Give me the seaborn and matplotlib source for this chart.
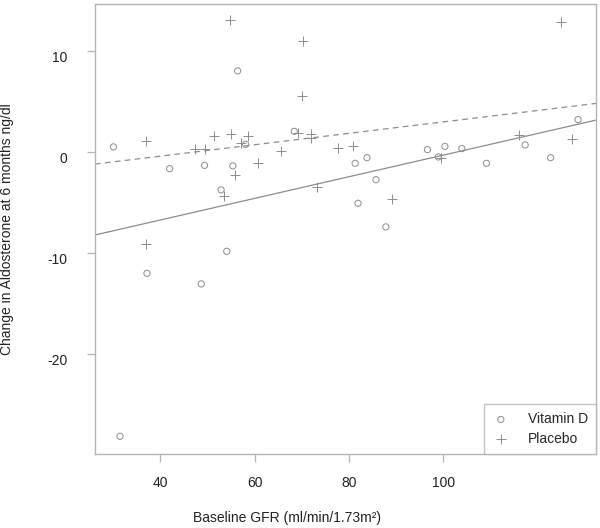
import numpy as np
import pandas as pd
import matplotlib
matplotlib.use("Agg")
import matplotlib.pyplot as plt
import matplotlib.transforms as mtransforms
import seaborn as sns

# values
vitd_gfr = [30.1, 42.0, 49.4, 55.4, 52.9, 56.4, 58.1, 68.4, 81.3, 83.8, 85.7, 81.9, 87.8,
            96.6, 100.3, 103.9, 98.9, 109.1, 117.3, 122.7, 128.5, 37.2, 48.7, 54.1, 31.5]
vitd_change = [0.54, -1.62, -1.29, -1.35, -3.72, 8.07, 0.79, 2.08, -1.09, -0.53, -2.71, -5.05, -7.39,
               0.27, 0.59, 0.37, -0.46, -1.09, 0.73, -0.53, 3.24, -11.99, -13.04, -9.81, -28.15]

placebo_gfr = [54.7, 70.3, 70.1, 51.3, 54.9, 58.5, 57.1, 47.4, 49.5, 37.1, 60.8, 55.9, 53.5,
               65.6, 71.9, 71.9, 69.2, 73.3, 77.6, 80.8, 89.1, 99.4, 116.0, 127.3, 124.9, 37.1]
placebo_change = [13.15, 11.04, 5.59, 1.66, 1.82, 1.59, 0.93, 0.32, 0.32, 1.16, -1.07, -2.26, -4.34,
                  0.10, 1.85, 1.41, 1.95, -3.45, 0.42, 0.63, -4.62, -0.59, 1.72, 1.33, 12.92, -9.05]

x_ticks = [40, 60, 80, 100]
y_ticks = [-20, -10, 0, 10]

GREY = "#8c8c8c"
FRAME = "#b4b4b4"


def main():
    sns.set_theme(style="ticks")
    plt.rcParams['font.family'] = ['Liberation Sans', 'DejaVu Sans']
    plt.rcParams['axes.unicode_minus'] = False

    vitd = pd.DataFrame({'gfr': vitd_gfr, 'change': vitd_change})
    placebo = pd.DataFrame({'gfr': placebo_gfr, 'change': placebo_change})

    fig = plt.figure(figsize=(6, 5.28), dpi=100)
    ax = fig.add_axes([95 / 600, 74 / 528, 501 / 600, 450 / 528])
    ax.set_xlim(26.2, 132.3)
    ax.set_ylim(-29.9, 14.7)

    sns.scatterplot(data=vitd, x='gfr', y='change', ax=ax, marker='o', s=20,
                    facecolors='none', edgecolors=GREY, linewidths=0.7, label='Vitamin D')
    sns.scatterplot(data=placebo, x='gfr', y='change', ax=ax, marker='+', s=60,
                    color=GREY, linewidths=0.7, label='Placebo')

    # least squares lines over the whole x range
    sns.regplot(data=vitd, x='gfr', y='change', ax=ax, scatter=False, ci=None, truncate=False,
                line_kws={'color': GREY, 'lw': 0.9})
    sns.regplot(data=placebo, x='gfr', y='change', ax=ax, scatter=False, ci=None, truncate=False,
                line_kws={'color': GREY, 'lw': 0.9, 'ls': (0, (4.5, 3.5))})
    ax.set_xlim(26.2, 132.3)
    ax.set_ylim(-29.9, 14.7)

    for sp in ax.spines.values():
        sp.set_visible(True)
        sp.set_color(FRAME)
        sp.set_linewidth(1.0)

    ax.set_xticks(x_ticks)
    ax.set_yticks(y_ticks)
    ax.tick_params(axis='both', direction='out', length=6, width=0.9, color=FRAME,
                   labelsize=10, labelcolor='#222222')
    ax.tick_params(axis='x', pad=10)
    ax.tick_params(axis='y', pad=14)
    off = mtransforms.ScaledTranslation(0, -5 / 100, fig.dpi_scale_trans)
    for lab in ax.get_yticklabels():
        lab.set_transform(lab.get_transform() + off)

    ax.set_xlabel('Baseline GFR (ml/min/1.73m²)', fontsize=10, color='#222222')
    ax.set_ylabel('Change in Aldosterone at 6 months ng/dl', fontsize=10, color='#222222')
    ax.xaxis.set_label_coords(0.383, -0.142)
    ax.xaxis.label.set_va('center')
    ax.yaxis.set_label_coords(-0.175, 0.5)
    ax.yaxis.label.set_va('center')

    leg = ax.legend(loc='lower right', frameon=True, fancybox=False, fontsize=10,
                    borderaxespad=0, handlelength=1.25, handletextpad=1.3,
                    borderpad=0.6, labelspacing=0.4)
    leg.get_frame().set_edgecolor(FRAME)
    leg.get_frame().set_linewidth(1.0)

    fig.savefig('out.png', dpi=100)


if __name__ == "__main__":
    main()
